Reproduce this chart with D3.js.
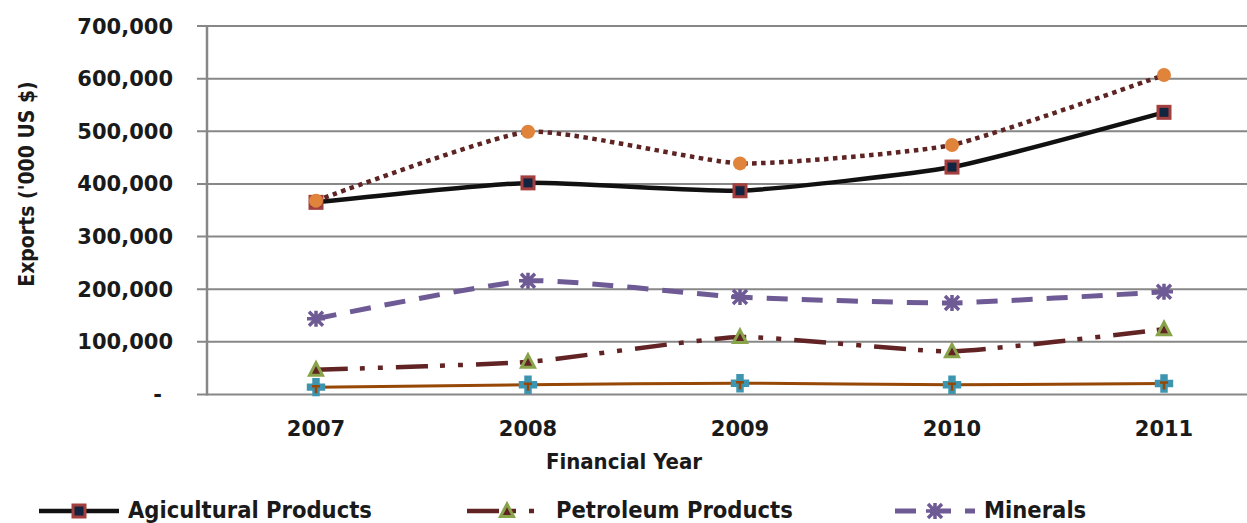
<!DOCTYPE html>
<html>
<head>
<meta charset="utf-8">
<script src="https://cdn.jsdelivr.net/npm/d3@7"></script>
<style>
  body { margin: 0; background: #fff; }
  svg { display: block; overflow: hidden; }
</style>
</head>
<body>
<div id="chart"></div>
<script>
// Width and height of chart
var width = 1247;
var height = 523;

// Chart data
var years = ["2007", "2008", "2009", "2010", "2011"];
var agricultural = [365000, 402000, 387000, 432000, 536000];
var petroleum = [47000, 62000, 109000, 82000, 124000];
var minerals = [144000, 216000, 185000, 174000, 195000];
// two more series whose legend entries are cut off at the bottom
var extraOrange = [368000, 499000, 439000, 474000, 607000];
var extraCyan = [14000, 18500, 21500, 18500, 21000];
var yTicks = [0, 100000, 200000, 300000, 400000, 500000, 600000, 700000];

var series = [
  { name: "Agicultural Products", values: agricultural, color: "#111111", width: 4.5, dash: null, marker: "square", legend: true },
  { name: "Petroleum Products", values: petroleum, color: "#612323", width: 4.5, dash: "32,12,5,13,5,13", marker: "triangle", legend: true },
  { name: "Minerals", values: minerals, color: "#6e5a94", width: 5, dash: "21,14", marker: "star", legend: true },
  { name: "", values: extraOrange, color: "#5e2424", width: 4.5, dash: "4.5,4.5", marker: "circle", legend: false },
  { name: "", values: extraCyan, color: "#974706", width: 3, dash: null, marker: "cross", legend: false }
];

var svg = d3.select("#chart")
  .append("svg")
  .attr("width", width)
  .attr("height", height);

// scales
var x = d3.scalePoint()
  .domain(years)
  .range([210, 1270])
  .padding(0.5);

var y = d3.scaleLinear()
  .domain([0, 700000])
  .range([394.5, 26]);

var axisLeft = 207;
var grey = "#878787";

// gridlines
svg.append("g")
  .selectAll("line")
  .data(yTicks)
  .enter()
  .append("line")
  .attr("x1", axisLeft - 10)
  .attr("x2", width)
  .attr("y1", function (d) { return y(d); })
  .attr("y2", function (d) { return y(d); })
  .style("stroke", grey)
  .style("stroke-width", 2);

// y axis line
svg.append("line")
  .attr("x1", axisLeft)
  .attr("x2", axisLeft)
  .attr("y1", y(700000) - 1)
  .attr("y2", y(0) + 1)
  .style("stroke", grey)
  .style("stroke-width", 2.5);

// y tick labels
svg.append("g")
  .selectAll("text")
  .data(yTicks)
  .enter()
  .append("text")
  .attr("x", function (d) { return d === 0 ? 162 : 173; })
  .attr("y", function (d) { return y(d) + 7.5; })
  .attr("text-anchor", "end")
  .style("font-family", "DejaVu Sans")
  .style("font-weight", "bold")
  .style("font-size", "21px")
  .style("fill", "#1a1a1a")
  .text(function (d) { return d === 0 ? "-" : d3.format(",")(d); });

// x tick labels
svg.append("g")
  .selectAll("text")
  .data(years)
  .enter()
  .append("text")
  .attr("x", function (d) { return x(d); })
  .attr("y", 436)
  .attr("text-anchor", "middle")
  .style("font-family", "DejaVu Sans")
  .style("font-weight", "bold")
  .style("font-size", "21px")
  .style("fill", "#1a1a1a")
  .text(function (d) { return d; });

// axis titles
svg.append("text")
  .attr("x", 624)
  .attr("y", 469)
  .attr("text-anchor", "middle")
  .style("font-family", "DejaVu Sans Condensed")
  .style("font-weight", "bold")
  .style("font-size", "22px")
  .style("fill", "#1a1a1a")
  .text("Financial Year");

svg.append("text")
  .attr("transform", "translate(34,184) rotate(-90)")
  .attr("text-anchor", "middle")
  .style("font-family", "DejaVu Sans Condensed")
  .style("font-weight", "bold")
  .style("font-size", "21px")
  .style("fill", "#1a1a1a")
  .text("Exports ('000 US $)");

// smoothed line generator, gentler than catmull-rom
var line = d3.line()
  .x(function (d, i) { return x(years[i]); })
  .y(function (d) { return y(d); })
  .curve(d3.curveCardinal.tension(0.5));

// draw one marker at (cx, cy)
function drawMarker(g, type, cx, cy) {
  if (type == "square") {
    g.append("rect")
      .attr("x", cx - 6).attr("y", cy - 6)
      .attr("width", 12).attr("height", 12)
      .style("fill", "#12243f")
      .style("stroke", "#a43f3f")
      .style("stroke-width", 3);
  } else if (type == "triangle") {
    g.append("path")
      .attr("d", "M" + cx + "," + (cy - 7) + "L" + (cx + 6.5) + "," + (cy + 5.5) + "L" + (cx - 6.5) + "," + (cy + 5.5) + "Z")
      .style("fill", "#612323")
      .style("stroke", "#88a34a")
      .style("stroke-width", 3);
  } else if (type == "star") {
    g.append("path")
      .attr("d", "M" + (cx - 7) + "," + (cy - 7) + "L" + (cx + 7) + "," + (cy + 7) +
        "M" + (cx + 7) + "," + (cy - 7) + "L" + (cx - 7) + "," + (cy + 7) +
        "M" + (cx - 9) + "," + cy + "L" + (cx + 9) + "," + cy +
        "M" + cx + "," + (cy - 8) + "L" + cx + "," + (cy + 8))
      .style("stroke", "#6e5a94")
      .style("stroke-width", 3.5);
  } else if (type == "circle") {
    g.append("circle")
      .attr("cx", cx).attr("cy", cy).attr("r", 7)
      .style("fill", "#e0833b");
  } else if (type == "cross") {
    g.append("path")
      .attr("d", d3.symbol().type(d3.symbolCross).size(150)())
      .attr("transform", "translate(" + cx + "," + cy + ")")
      .style("fill", "#3d95b0")
      .style("stroke", "#3d95b0")
      .style("stroke-width", 2);
    g.append("path")
      .attr("d", "M" + (cx - 4) + "," + (cy - 1) + "L" + (cx + 4) + "," + (cy - 1) + "M" + cx + "," + (cy - 1) + "L" + cx + "," + (cy + 6))
      .style("stroke", "#974706")
      .style("stroke-width", 2.5);
  }
}

// series lines and markers
series.forEach(function (s) {
  var g = svg.append("g");
  g.append("path")
    .datum(s.values)
    .attr("d", line)
    .style("fill", "none")
    .style("stroke", s.color)
    .style("stroke-width", s.width)
    .style("stroke-dasharray", s.dash);
  s.values.forEach(function (v, i) {
    drawMarker(g, s.marker, x(years[i]), y(v));
  });
});

// legend (second row is cut off in the original)
var legendX = [39, 467, 895];
var legendItems = svg.append("g")
  .selectAll("g")
  .data(series.filter(function (s) { return s.legend; }))
  .enter()
  .append("g")
  .attr("transform", function (d, i) { return "translate(" + legendX[i] + ",511)"; });

legendItems.append("line")
  .attr("x1", 0)
  .attr("x2", 80)
  .style("stroke", function (d) { return d.color; })
  .style("stroke-width", function (d) { return d.width; })
  .style("stroke-dasharray", function (d) { return d.dash; });

legendItems.each(function (d) {
  drawMarker(d3.select(this), d.marker, 40, 0);
});

legendItems.append("text")
  .attr("x", 89)
  .attr("y", 6.5)
  .style("font-family", "DejaVu Sans Condensed")
  .style("font-weight", "bold")
  .style("font-size", "23.5px")
  .style("fill", "#1a1a1a")
  .text(function (d) { return d.name; });
</script>
</body>
</html>
